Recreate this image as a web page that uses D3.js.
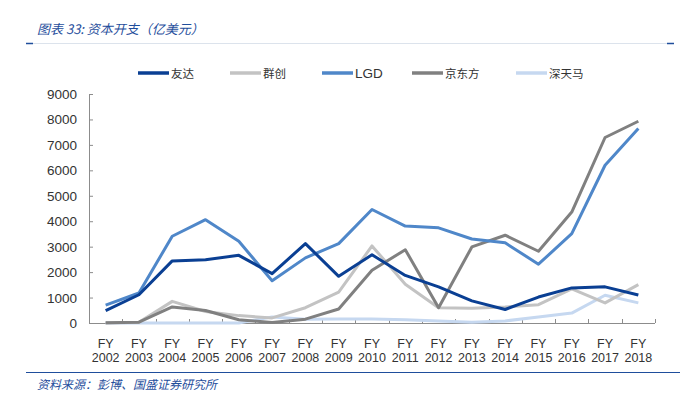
<!DOCTYPE html>
<html>
<head>
<meta charset="utf-8">
<script src="https://cdn.jsdelivr.net/npm/d3@7"></script>
<style>
  body { margin: 0; background: #fff; }
  svg { display: block; }
  .num { font-family: "Liberation Sans Narrow", "Liberation Sans", Arial, sans-serif; font-size: 13.5px; fill: #333; }
  .xlab { font-size: 12.5px; }
  .cjk { font-family: "Noto Sans CJK SC", sans-serif; }
</style>
</head>
<body>
<svg width="680" height="399"></svg>
<script>
// categories / tick labels
const years = ['2002','2003','2004','2005','2006','2007','2008','2009','2010',
               '2011','2012','2013','2014','2015','2016','2017','2018'];
const yTicks = [0, 1000, 2000, 3000, 4000, 5000, 6000, 7000, 8000, 9000];

// series values (亿美元)
const auo   = [490, 1110, 2440, 2490, 2660, 1940, 3120, 1835, 2680, 1870, 1420, 870, 530, 1020, 1380, 1420, 1100];
const innolux = [0, 30, 850, 450, 290, 200, 600, 1210, 3030, 1520, 600, 580, 630, 720, 1340, 790, 1510];
const lgd   = [700, 1180, 3410, 4060, 3210, 1660, 2560, 3120, 4460, 3810, 3740, 3300, 3150, 2310, 3510, 6200, 7640];
const boe   = [10, 30, 630, 490, 130, 20, 150, 550, 2070, 2880, 600, 2990, 3450, 2820, 4360, 7290, 7930];
const tianma = [0, 0, 0, 0, 0, 240, 150, 160, 160, 130, 80, 30, 80, 240, 390, 1090, 790];

const names  = ['友达', '群创', 'LGD', '京东方', '深天马'];
const colors = ['#0a3f93', '#c3c3c3', '#4f87c9', '#808080', '#c6d8f0'];
const series = [auo, innolux, lgd, boe, tianma];

const svg = d3.select('svg');

// header
svg.append('text')
  .attr('class', 'cjk')
  .attr('x', 37).attr('y', 34)
  .attr('font-size', 13)
  .attr('font-style', 'italic')
  .attr('fill', '#1f4e9c')
  .text('图表 33:  资本开支（亿美元）');

svg.append('line')
  .attr('x1', 26).attr('x2', 674).attr('y1', 43.5).attr('y2', 43.5)
  .attr('stroke', '#dce3ec').attr('stroke-width', 1);
svg.append('line')
  .attr('x1', 26).attr('x2', 33).attr('y1', 43.5).attr('y2', 43.5)
  .attr('stroke', '#1f4e9c').attr('stroke-width', 1.5);
svg.append('line')
  .attr('x1', 667).attr('x2', 674).attr('y1', 43.5).attr('y2', 43.5)
  .attr('stroke', '#1f4e9c').attr('stroke-width', 1.5);

// footer
svg.append('line')
  .attr('x1', 26).attr('x2', 680).attr('y1', 372.5).attr('y2', 372.5)
  .attr('stroke', '#1f4e9c').attr('stroke-width', 1.2);
svg.append('text')
  .attr('class', 'cjk')
  .attr('x', 37).attr('y', 389)
  .attr('font-size', 12)
  .attr('font-style', 'italic')
  .attr('fill', '#1f4e9c')
  .text('资料来源：彭博、国盛证券研究所');

// plot area
const plotL = 89, plotR = 655, plotT = 94, plotB = 323;

const x = d3.scaleBand().domain(years).range([plotL, plotR]);
const y = d3.scaleLinear().domain([0, 9000]).range([plotB, plotT]);

// y axis
const yAxis = svg.append('g')
  .attr('transform', `translate(${plotL},0)`)
  .call(d3.axisRight(y).tickValues(yTicks).tickSize(4).tickFormat(''));
yAxis.select('.domain').attr('stroke', '#8c8c8c').attr('d', `M0.5,${plotT}V${plotB}`);
yAxis.selectAll('.tick line').attr('stroke', '#8c8c8c');

svg.selectAll('.ylab')
  .data(yTicks)
  .enter()
  .append('text')
  .attr('class', 'num')
  .attr('x', 77)
  .attr('y', d => y(d) + 5)
  .attr('text-anchor', 'end')
  .text(d => d);

// x axis (ticks at category boundaries, pointing up)
const bounds = years.map(d => x(d)).concat([plotR]);
svg.append('line')
  .attr('x1', plotL).attr('x2', plotR)
  .attr('y1', plotB + 0.5).attr('y2', plotB + 0.5)
  .attr('stroke', '#8c8c8c');
svg.selectAll('.xtick')
  .data(bounds)
  .enter()
  .append('line')
  .attr('x1', d => Math.round(d) + 0.5).attr('x2', d => Math.round(d) + 0.5)
  .attr('y1', plotB - 4).attr('y2', plotB)
  .attr('stroke', '#8c8c8c');

// two-line category labels: "FY" above the year
['FY', null].forEach((row, r) => {
  svg.selectAll('.xlab' + r)
    .data(years)
    .enter()
    .append('text')
    .attr('class', 'num xlab')
    .attr('text-anchor', 'middle')
    .attr('x', d => x(d) + x.bandwidth() / 2)
    .attr('y', r === 0 ? 348 : 362)
    .text(d => row || d);
});

// lines
const line = d3.line()
  .x((d, i) => x(years[i]) + x.bandwidth() / 2)
  .y(d => y(d));

const drawOrder = [4, 1, 3, 2, 0];
drawOrder.forEach(k => {
  svg.append('path')
    .datum(series[k])
    .attr('fill', 'none')
    .attr('stroke', colors[k])
    .attr('stroke-width', 3)
    .attr('stroke-linejoin', 'round')
    .attr('d', line);
});

// legend
const legendX = [138, 230, 322, 412, 516];
const legend = svg.selectAll('.legend')
  .data(names)
  .enter()
  .append('g')
  .attr('transform', (d, i) => `translate(${legendX[i]},73)`);
legend.append('line')
  .attr('x1', 0).attr('x2', 31)
  .attr('stroke', (d, i) => colors[i])
  .attr('stroke-width', 3.5);
legend.append('text')
  .attr('x', 33).attr('y', 4.5)
  .attr('fill', '#333')
  .attr('font-family', d => d === 'LGD' ? '"Liberation Sans Narrow", Arial, sans-serif' : '"Noto Sans CJK SC", sans-serif')
  .attr('font-size', d => d === 'LGD' ? 13.5 : 11.5)
  .text(d => d);
</script>
</body>
</html>
